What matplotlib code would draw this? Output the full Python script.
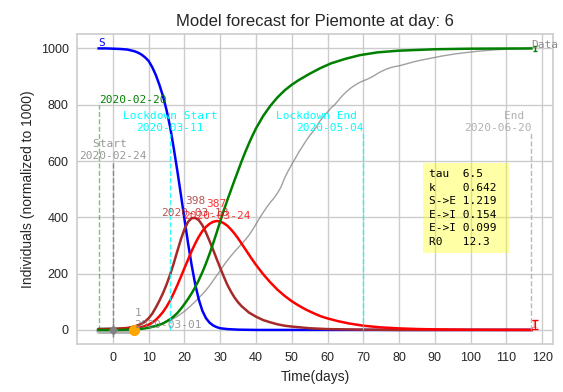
import numpy as np
import matplotlib
matplotlib.use("Agg")
import matplotlib.pyplot as plt
from matplotlib.patches import Rectangle

# ---------------- data ----------------
s_days = [-4, -2, 0, 2, 4, 5, 6, 7, 8, 9, 10, 11, 12, 13, 14, 15, 16, 17, 18, 19, 20, 21, 22, 23, 24, 25, 26, 27, 28, 29, 30, 32, 35, 40, 117]
s_vals = [1000, 1000, 999, 998, 996, 993, 990, 985, 978, 968, 955, 933, 905, 870, 830, 780, 720, 645, 565, 480, 393, 308, 230, 162, 108, 68, 42, 26, 16, 10, 6, 3, 1, 0, 0]

e_days = [-4, 0, 2, 4, 6, 8, 9, 10, 11, 12, 13, 14, 15, 16, 17, 18, 19, 20, 21, 22, 23, 24, 25, 26, 27, 28, 29, 30, 31, 32, 33, 34, 35, 36, 38, 40, 42, 44, 46, 48, 50, 55, 60, 70, 80, 117]
e_vals = [2, 4, 5, 7, 12, 22, 30, 42, 58, 80, 104, 131, 162, 197, 237, 280, 322, 358, 384, 397, 398, 390, 372, 346, 316, 285, 252, 220, 189, 160, 136, 115, 98, 84, 62, 47, 35, 27, 20, 15, 12, 6, 3, 1, 0, 0]

i_days = [-4, 0, 2, 4, 6, 8, 10, 11, 12, 13, 14, 15, 16, 17, 18, 19, 20, 21, 22, 23, 24, 25, 26, 27, 28, 29, 30, 31, 32, 33, 34, 35, 36, 37, 38, 39, 40, 42, 44, 46, 48, 50, 52, 54, 56, 58, 60, 63, 66, 70, 75, 80, 85, 90, 100, 110, 117]
i_vals = [1, 2, 3, 4, 6, 10, 19, 26, 36, 49, 64, 83, 105, 131, 159, 189, 220, 250, 280, 307, 331, 351, 366, 377, 384, 387, 385, 379, 370, 357, 342, 325, 306, 287, 268, 249, 231, 198, 169, 143, 121, 102, 86, 72, 60, 49, 41, 31, 23, 15, 9, 5.5, 3.3, 2, 0.7, 0.3, 0.2]

r_days = [-4, 0, 4, 6, 8, 10, 12, 14, 16, 17, 18, 19, 20, 21, 22, 23, 24, 25, 26, 27, 28, 29, 30, 31, 32, 33, 34, 35, 36, 37, 38, 39, 40, 42, 44, 46, 48, 50, 52, 55, 58, 61, 65, 69, 74, 80, 90, 100, 117]
r_vals = [0, 0, 1, 2, 4, 8, 14, 23, 38, 48, 60, 75, 92, 110, 130, 152, 177, 205, 236, 270, 307, 346, 386, 425, 462, 497, 532, 566, 600, 632, 662, 690, 716, 760, 796, 826, 851, 871, 888, 910, 930, 947, 963, 976, 986, 992, 997, 999, 1000]

data_days = [0, 2, 4, 6, 7, 8, 9, 10, 11, 12, 13, 14, 15, 16, 17, 18, 19, 20, 21, 22, 23, 24, 25, 26, 27, 28, 29, 30,
             31, 32, 33, 34, 35, 36, 37, 38, 39, 40, 41, 42, 43, 44, 45, 46, 47, 48, 49, 50, 51, 52, 53, 54, 55, 56, 57, 58, 59, 60,
             61, 62, 63, 64, 65, 66, 67, 68, 69, 70, 71, 72, 73, 74, 75, 76, 77, 78, 79, 80, 82, 84, 86, 88, 90,
             92, 94, 96, 98, 100, 102, 104, 106, 108, 110, 113, 117]
data_vals = [0, 0, 0, 1, 2, 3, 5, 8, 11, 15, 19, 24, 29, 34, 41, 48, 57, 66, 77, 89, 101, 114, 127, 141, 157, 175, 193, 211,
             230, 247, 263, 278, 292, 306, 320, 336, 355, 376, 397, 417, 436, 453, 468, 486, 508, 540, 565, 588, 610, 632, 652, 672, 690, 706, 724, 744, 760, 774,
             789, 800, 815, 830, 843, 854, 864, 872, 879, 885, 890, 896, 903, 911, 918, 924, 929, 933, 936, 938, 945, 952, 958, 963, 968,
             973, 977, 981, 984, 987, 990, 992, 994, 996, 997, 998, 1000]

fit_days = [-4, 6]
fit_vals = [0, 0]
start_day, start_val, start_err = 0, 0, 25
today_day, today_val = 6, 0
end_data_day = 118
i_end_val, i_end_err = 20, 17
r_end_val, r_end_err = 1000, 8

events = [  # (day, height, label, color, ha, line alpha, text alpha)
    (-4, 800, "2020-02-20", "green", "left", 0.5, 1.0),
    (0, 600, "Start \n2020-02-24", "gray", "center", 0.9, 0.8),
    (16, 700, "Lockdown Start\n2020-03-11", "cyan", "center", 0.8, 1.0),
    (70, 700, "Lockdown End \n2020-05-04", "cyan", "right", 0.8, 1.0),
    (117, 700, "End \n2020-06-20", "darkgray", "right", 0.8, 0.9),
]
date0 = np.datetime64("2020-02-24")

params = "tau  6.5\nk    0.642\nS->E 1.219\nE->I 0.154\nE->I 0.099\nR0   12.3"
x_ticks = list(range(0, 121, 10))
y_ticks = list(range(0, 1001, 200))

# ---------------- plot ----------------
mono = "DejaVu Sans Mono"
plt.rcParams["font.family"] = ["Liberation Sans", "DejaVu Sans"]
fig = plt.figure(figsize=(5.63, 3.92), dpi=100)
ax = fig.add_axes([0.1368, 0.1224, 0.8455, 0.790])
ax.set_facecolor("white")
ax.grid(True, color="#cccccc", lw=1)
ax.set_axisbelow(True)
for sp in ax.spines.values():
    sp.set_color("#cccccc")
    sp.set_linewidth(1.2)
ax.tick_params(length=0, labelsize=9, colors="#262626", pad=6)

ax.plot(fit_days, fit_vals, color="gray", lw=5, alpha=0.6, solid_capstyle="round")
ax.plot(data_days, data_vals, color="gray", lw=1, alpha=0.75)
ax.plot(s_days, s_vals, color="blue", lw=1.8)
ax.plot(e_days, e_vals, color="brown", lw=1.8)
ax.plot(i_days, i_vals, color="red", lw=1.8)
ax.plot(r_days, r_vals, color="green", lw=1.8)

ax.errorbar([start_day], [start_val], yerr=[start_err], fmt="D", color="gray", ms=4, lw=1)
ax.plot([today_day], [today_val], "o", color="orange", ms=7)
ax.errorbar([end_data_day], [i_end_val], yerr=[i_end_err], fmt="none", ecolor="red", lw=0.8, capsize=2)
ax.errorbar([end_data_day], [r_end_val], yerr=[r_end_err], fmt="none", ecolor="green", lw=1, capsize=1.5)

for d, h, lab, col, ha, la, ta in events:
    ax.plot([d, d], [0, h], ls="--", color=col, lw=1, alpha=la)
    ax.text(d, h, lab, color=col, ha=ha, va="bottom", family=mono, fontsize=8, alpha=ta)

# curve labels
ax.text(s_days[0], s_vals[0], "S", color="blue", ha="left", va="bottom", family=mono, fontsize=8)
ax.text(117, 0, "I", color="red", ha="left", va="bottom", family=mono, fontsize=8, alpha=0.6)
ax.text(117, 1000, "Data", color="gray", ha="left", va="baseline", family=mono, fontsize=8, alpha=0.9)

# today label
ax.text(today_day, today_val, f"{data_vals[3]}\n{str(date0 + np.timedelta64(today_day, 'D'))}",
        color="gray", ha="left", va="bottom", family=mono, fontsize=8, alpha=0.8)

# peaks
for days, vals, col in [(e_days, e_vals, "brown"), (i_days, i_vals, "red")]:
    k = int(np.argmax(vals))
    d = days[k]
    ax.text(d, vals[k], f"{vals[k]}\n{str(date0 + np.timedelta64(d, 'D'))}", color=col,
            ha="center", va="bottom", family=mono, fontsize=8, alpha=0.8)

# parameter box
ax.add_patch(Rectangle((0.7275, 0.293), 0.1801, 0.2905, transform=ax.transAxes,
                       facecolor="yellow", edgecolor="none", alpha=0.35, zorder=1.5))
ax.text(0.7395, 0.565, params, transform=ax.transAxes, ha="left", va="top", family=mono,
        fontsize=8, linespacing=1.45)

ax.set_xticks(x_ticks)
ax.set_yticks(y_ticks)
ax.set_xlim(-10.05, 123.05)
ax.set_ylim(-50, 1050)
ax.set_xlabel("Time(days)", fontsize=10, color="#262626")
ax.set_ylabel("Individuals (normalized to 1000)", fontsize=10, color="#262626")
ax.set_title("Model forecast for Piemonte at day: 6", fontsize=12, color="#262626")

fig.savefig("out.png", dpi=100)
